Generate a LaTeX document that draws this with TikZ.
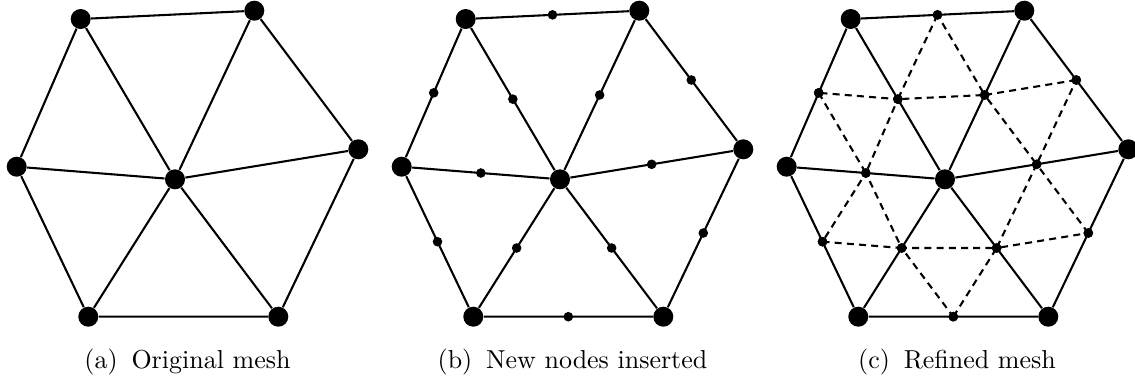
\documentclass[tikz,border=0pt]{standalone}
\usetikzlibrary{calc}

\begin{document}
\begin{tikzpicture}[x=0.385pt, y=-0.385pt,
  mesh/.style={line width=0.8pt},
  refine/.style={line width=0.8pt, dash pattern=on 2.7pt off 2pt},
  vtx/.style={circle, fill, inner sep=0pt, minimum size=7.7pt},
  midpt/.style={circle, fill, inner sep=0pt, minimum size=3.7pt},
  captext/.style={anchor=base, font=\normalsize}]

\useasboundingbox (0,0) rectangle (1135,379);

% vertices of the three copies of the mesh (prefix / horizontal shift)
\foreach \p/\dx in {a/0, b/385, c/770}{
  \foreach \n/\x/\y in {TL/80.7/19, TR/254.3/10.7, R/358.3/149.3,
                        BR/278.3/316.7, BL/88.3/316.7, L/16.7/166.7,
                        C/175/179.3}{
    \node[vtx] (\p-\n) at (\x+\dx,\y) {};
  }
}

% edge midpoints (new nodes) for panels b and c
\foreach \p in {b,c}{
  \foreach \u/\v in {TL/TR, TR/R, R/BR, BR/BL, BL/L, L/TL,
                     C/TL, C/TR, C/R, C/BR, C/BL, C/L}{
    \node[midpt] (\p-\u-\v) at ($(\p-\u)!0.5!(\p-\v)$) {};
  }
}

% original mesh edges
\foreach \p in {a,b,c}{
  \draw[mesh] (\p-TL) -- (\p-TR) -- (\p-R) -- (\p-BR) -- (\p-BL) -- (\p-L) -- (\p-TL);
  \foreach \o in {TL,TR,R,BR,BL,L}{
    \draw[mesh] (\p-C) -- (\p-\o);
  }
}

% refinement: join the midpoints inside every triangle
\foreach \u/\v in {TL/TR, TR/R, R/BR, BR/BL, BL/L, L/TL}{
  \draw[refine] (c-\u-\v.center) -- (c-C-\u.center) -- (c-C-\v.center) -- cycle;
}
\foreach \u/\v in {TL/TR, TR/R, R/BR, BR/BL, BL/L, L/TL,
                   C/TL, C/TR, C/R, C/BR, C/BL, C/L}{
  \node[midpt] at (c-\u-\v) {};
}

% captions
\node[captext] (capa) at (187.5,368) {(a)\hspace{2pt} Original mesh};
\node[captext] (capb) at (572.5,368) {(b)\hspace{2pt} New nodes inserted};
\node[captext] (capc) at (957,368) {(c)\hspace{2pt} Refined mesh};
\end{tikzpicture}
\end{document}
